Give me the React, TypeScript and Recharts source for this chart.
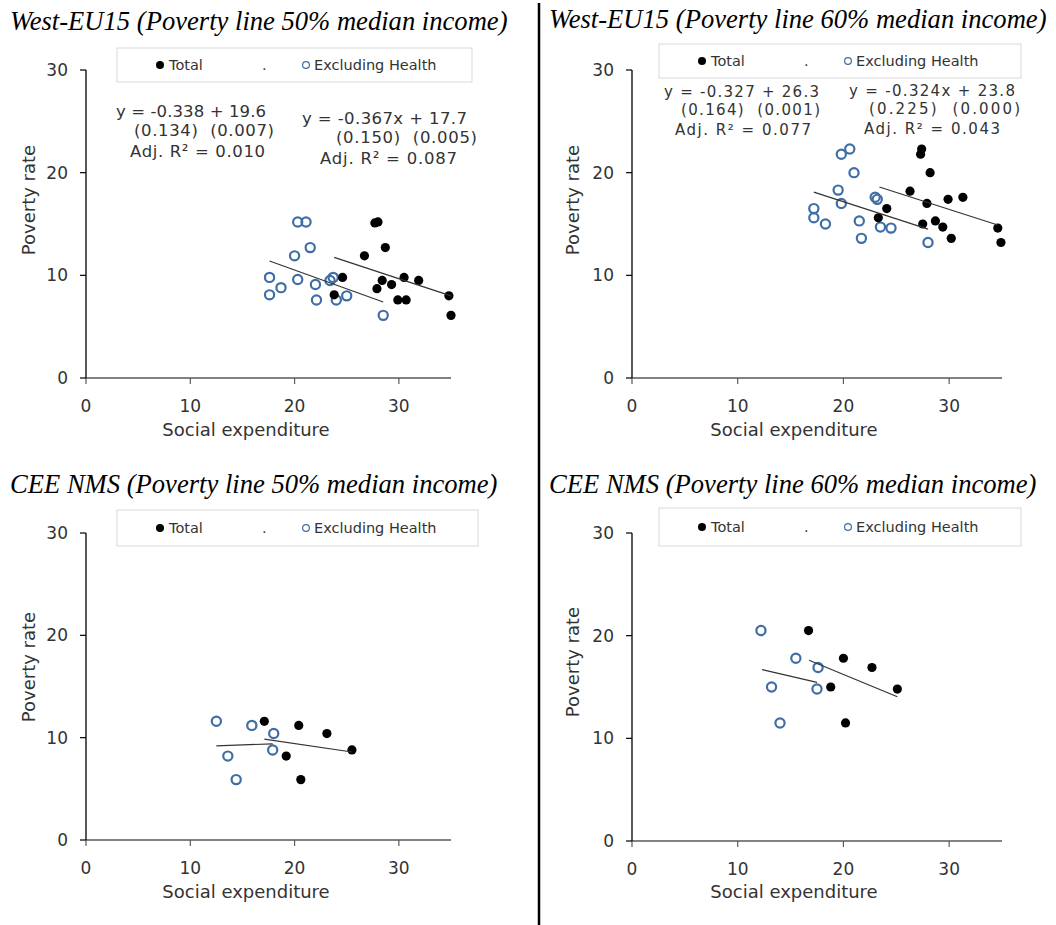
import React from 'react';
import { ScatterChart, Scatter, XAxis, YAxis } from 'recharts';

// values (x = social expenditure, y = poverty rate)
const west50Total = [
  { x: 27.7, y: 15.1 }, { x: 28.0, y: 15.2 }, { x: 28.7, y: 12.7 }, { x: 26.7, y: 11.9 },
  { x: 24.6, y: 9.8 }, { x: 28.4, y: 9.5 }, { x: 30.5, y: 9.8 }, { x: 31.9, y: 9.5 },
  { x: 27.9, y: 8.7 }, { x: 29.3, y: 9.1 }, { x: 23.8, y: 8.1 }, { x: 29.9, y: 7.6 },
  { x: 30.7, y: 7.6 }, { x: 34.8, y: 8.0 }, { x: 35.0, y: 6.1 },
];
const west50Excl = [
  { x: 20.3, y: 15.2 }, { x: 21.1, y: 15.2 }, { x: 21.5, y: 12.7 }, { x: 20.0, y: 11.9 },
  { x: 17.6, y: 9.8 }, { x: 20.3, y: 9.6 }, { x: 22.0, y: 9.1 }, { x: 18.7, y: 8.8 },
  { x: 17.6, y: 8.1 }, { x: 23.4, y: 9.5 }, { x: 23.7, y: 9.8 }, { x: 22.1, y: 7.6 },
  { x: 24.0, y: 7.6 }, { x: 25.0, y: 8.0 }, { x: 28.5, y: 6.1 },
];
const west50TotalLine = [{ x: 23.8, y: 11.75 }, { x: 35.0, y: 8.0 }];
const west50ExclLine = [{ x: 17.6, y: 11.4 }, { x: 28.5, y: 7.4 }];

const west60Total = [
  { x: 27.4, y: 22.3 }, { x: 27.3, y: 21.8 }, { x: 28.2, y: 20.0 }, { x: 26.3, y: 18.2 },
  { x: 29.9, y: 17.4 }, { x: 31.3, y: 17.6 }, { x: 27.9, y: 17.0 }, { x: 24.1, y: 16.5 },
  { x: 23.3, y: 15.6 }, { x: 28.7, y: 15.3 }, { x: 29.4, y: 14.7 }, { x: 27.5, y: 15.0 },
  { x: 30.2, y: 13.6 }, { x: 34.6, y: 14.6 }, { x: 34.9, y: 13.2 },
];
const west60Excl = [
  { x: 19.8, y: 21.8 }, { x: 20.6, y: 22.3 }, { x: 21.0, y: 20.0 }, { x: 19.5, y: 18.3 },
  { x: 19.8, y: 17.0 }, { x: 23.0, y: 17.6 }, { x: 23.2, y: 17.4 }, { x: 17.2, y: 16.5 },
  { x: 17.2, y: 15.6 }, { x: 18.3, y: 15.0 }, { x: 21.5, y: 15.3 }, { x: 21.7, y: 13.6 },
  { x: 23.5, y: 14.7 }, { x: 24.5, y: 14.6 }, { x: 28.0, y: 13.2 },
];
const west60TotalLine = [{ x: 23.4, y: 18.6 }, { x: 34.6, y: 14.9 }];
const west60ExclLine = [{ x: 17.2, y: 18.1 }, { x: 28.0, y: 14.5 }];

const cee50Total = [
  { x: 17.1, y: 11.6 }, { x: 20.4, y: 11.2 }, { x: 23.1, y: 10.4 },
  { x: 25.5, y: 8.8 }, { x: 19.2, y: 8.2 }, { x: 20.6, y: 5.9 },
];
const cee50Excl = [
  { x: 12.5, y: 11.6 }, { x: 15.9, y: 11.2 }, { x: 18.0, y: 10.4 },
  { x: 13.6, y: 8.2 }, { x: 17.9, y: 8.8 }, { x: 14.4, y: 5.9 },
];
const cee50TotalLine = [{ x: 17.1, y: 9.85 }, { x: 25.5, y: 8.6 }];
const cee50ExclLine = [{ x: 12.5, y: 9.2 }, { x: 17.9, y: 9.4 }];

const cee60Total = [
  { x: 16.7, y: 20.5 }, { x: 20.0, y: 17.8 }, { x: 22.7, y: 16.9 },
  { x: 25.1, y: 14.8 }, { x: 18.8, y: 15.0 }, { x: 20.2, y: 11.5 },
];
const cee60Excl = [
  { x: 12.2, y: 20.5 }, { x: 15.5, y: 17.8 }, { x: 17.6, y: 16.9 },
  { x: 13.2, y: 15.0 }, { x: 17.5, y: 14.8 }, { x: 14.0, y: 11.5 },
];
const cee60TotalLine = [{ x: 16.75, y: 17.6 }, { x: 25.1, y: 14.05 }];
const cee60ExclLine = [{ x: 12.3, y: 16.7 }, { x: 17.5, y: 15.45 }];

const xTicks = [0, 10, 20, 30];
const yTicks = [0, 10, 20, 30];

const titles = [
  'West-EU15 (Poverty line 50% median income)',
  'West-EU15 (Poverty line 60% median income)',
  'CEE NMS (Poverty line 50% median income)',
  'CEE NMS (Poverty line 60% median income)',
];

const eqWest50 = [
  ['y = -0.338 + 19.6', '(0.134)  (0.007)', 'Adj. R² = 0.010'],
  ['y = -0.367x + 17.7', '(0.150)  (0.005)', 'Adj. R² = 0.087'],
];
const eqWest60 = [
  ['y = -0.327 + 26.3', '(0.164)  (0.001)', 'Adj. R² = 0.077'],
  ['y = -0.324x + 23.8', '(0.225)  (0.000)', 'Adj. R² = 0.043'],
];

const FONT = '"DejaVu Sans", Verdana, sans-serif';
const SERIF = '"Liberation Serif", "Times New Roman", serif';
const BLUE = '#3f6ea6';
const Y_W = 60;
const X_H = 40;

const SolidDot = (p: any) => <circle cx={p.cx} cy={p.cy} r={4.6} fill="#000" />;
const HollowDot = (p: any) => (
  <circle cx={p.cx} cy={p.cy} r={4.6} fill="#fff" fillOpacity={0} stroke={BLUE} strokeWidth={2.2} />
);
const NoDot = () => <g />;

const panels = [
  { left: 0, top: 0, width: 530, height: 460, plot: [86, 451, 70, 378], total: west50Total, excl: west50Excl, totalLine: west50TotalLine, exclLine: west50ExclLine },
  { left: 545, top: 0, width: 511, height: 460, plot: [632, 1002, 70, 378], total: west60Total, excl: west60Excl, totalLine: west60TotalLine, exclLine: west60ExclLine },
  { left: 0, top: 462, width: 530, height: 463, plot: [86, 451, 533, 840], total: cee50Total, excl: cee50Excl, totalLine: cee50TotalLine, exclLine: cee50ExclLine },
  { left: 545, top: 462, width: 511, height: 463, plot: [632, 1002, 533, 841], total: cee60Total, excl: cee60Excl, totalLine: cee60TotalLine, exclLine: cee60ExclLine },
];

function Panel({ cfg }: { cfg: any }) {
  const [x0, x1, y0, y1] = cfg.plot;
  const margin = {
    left: x0 - cfg.left - Y_W,
    right: cfg.left + cfg.width - x1,
    top: y0 - cfg.top,
    bottom: cfg.top + cfg.height - y1 - X_H,
  };
  const tick = { fill: '#333', fontSize: 17, fontFamily: FONT };
  return (
    <div style={{ position: 'absolute', left: cfg.left, top: cfg.top, width: cfg.width, height: cfg.height }}>
      <ScatterChart width={cfg.width} height={cfg.height} margin={margin}>
        <XAxis
          type="number" dataKey="x" domain={[0, 35]} ticks={xTicks} interval={0}
          height={X_H} tickSize={6} tickMargin={16}
          axisLine={{ stroke: '#595959', strokeWidth: 1.5 }}
          tickLine={{ stroke: '#595959', strokeWidth: 1.2 }}
          tick={tick}
        />
        <YAxis
          type="number" dataKey="y" domain={[0, 30]} ticks={yTicks} interval={0}
          width={Y_W} tickSize={6} tickMargin={12}
          axisLine={{ stroke: '#000', strokeWidth: 1.3 }}
          tickLine={{ stroke: '#000', strokeWidth: 1.2 }}
          tick={tick}
        />
        <Scatter data={cfg.excl} shape={HollowDot} isAnimationActive={false} />
        <Scatter data={cfg.total} shape={SolidDot} isAnimationActive={false} />
        <Scatter data={cfg.exclLine} line={{ stroke: '#333', strokeWidth: 1.2 }} shape={NoDot} isAnimationActive={false} />
        <Scatter data={cfg.totalLine} line={{ stroke: '#333', strokeWidth: 1.2 }} shape={NoDot} isAnimationActive={false} />
      </ScatterChart>
    </div>
  );
}

function LegendBox({ x, y, w, h }: { x: number; y: number; w: number; h: number }) {
  const cy = y + h / 2;
  return (
    <g>
      <rect x={x} y={y} width={w} height={h} fill="#fff" stroke="#d9d9d9" strokeWidth={1} />
      <circle cx={x + 43} cy={cy} r={4} fill="#000" />
      <text x={x + 52} y={cy + 5} fontSize={14.5} fontFamily={FONT} fill="#333">Total</text>
      <text x={x + 145} y={cy + 5} fontSize={14.5} fontFamily={FONT} fill="#333">.</text>
      <circle cx={x + 189} cy={cy} r={3.4} fill="none" stroke={BLUE} strokeWidth={1.2} />
      <text x={x + 197} y={cy + 5} fontSize={14.5} fontFamily={FONT} fill="#333">Excluding Health</text>
    </g>
  );
}

function EqBlock({ lines, x, y, dx, dy, w, size }: { lines: string[]; x: number; y: number; dx: number[]; dy: number[]; w: number[]; size: number }) {
  return (
    <g>
      {lines.map((s, i) => (
        <text key={i} x={x + dx[i]} y={y + dy[i]} fontSize={size} fontFamily={FONT} fill="#333"
          textLength={w[i]} lengthAdjust="spacing" style={{ whiteSpace: 'pre' }}>
          {s}
        </text>
      ))}
    </g>
  );
}

export default function App() {
  const labelStyle = { fontSize: 18, fontFamily: FONT, fill: '#333' };
  const titleProps = { fontSize: 26.6, fontStyle: 'italic', fontFamily: SERIF, fill: '#000' };
  return (
    <div style={{ position: 'absolute', left: 0, top: 0, width: 1056, height: 925, background: '#fff' }}>
      {panels.map((p, i) => <Panel key={i} cfg={p} />)}
      <svg width={1056} height={925} style={{ position: 'absolute', left: 0, top: 0, pointerEvents: 'none' }}>
        <line x1={539} y1={3} x2={539} y2={925} stroke="#000" strokeWidth={2.5} />

        <text x={10} y={30} {...titleProps}>{titles[0]}</text>
        <text x={549} y={28} {...titleProps}>{titles[1]}</text>
        <text x={10} y={493} {...titleProps}>{titles[2]}</text>
        <text x={549} y={493} {...titleProps}>{titles[3]}</text>

        <LegendBox x={117} y={48} w={355} h={34} />
        <LegendBox x={659} y={44} w={362} h={34} />
        <LegendBox x={117} y={510} w={361} h={36} />
        <LegendBox x={659} y={508} w={362} h={38} />

        <EqBlock lines={eqWest50[0]} x={116} y={117} dx={[0, 18, 14]} dy={[0, 19, 40]} w={[150, 140, 135]} size={16.5} />
        <EqBlock lines={eqWest50[1]} x={302} y={124} dx={[0, 34, 18]} dy={[0, 19, 40]} w={[165, 141, 137]} size={16.5} />
        <EqBlock lines={eqWest60[0]} x={664} y={97} dx={[0, 17, 11]} dy={[0, 18, 38]} w={[155, 139, 136]} size={15} />
        <EqBlock lines={eqWest60[1]} x={849} y={96} dx={[0, 20, 15]} dy={[0, 18, 38]} w={[166, 151, 136]} size={15} />

        {[[35, 200], [579, 200], [35, 667], [579, 662]].map(([x, y], i) => (
          <text key={i} x={x} y={y} textAnchor="middle" transform={`rotate(-90 ${x} ${y})`} {...labelStyle}>Poverty rate</text>
        ))}
        {[[246, 436], [794, 436], [246, 898], [794, 898]].map(([x, y], i) => (
          <text key={i} x={x} y={y} textAnchor="middle" {...labelStyle}>Social expenditure</text>
        ))}
      </svg>
    </div>
  );
}
